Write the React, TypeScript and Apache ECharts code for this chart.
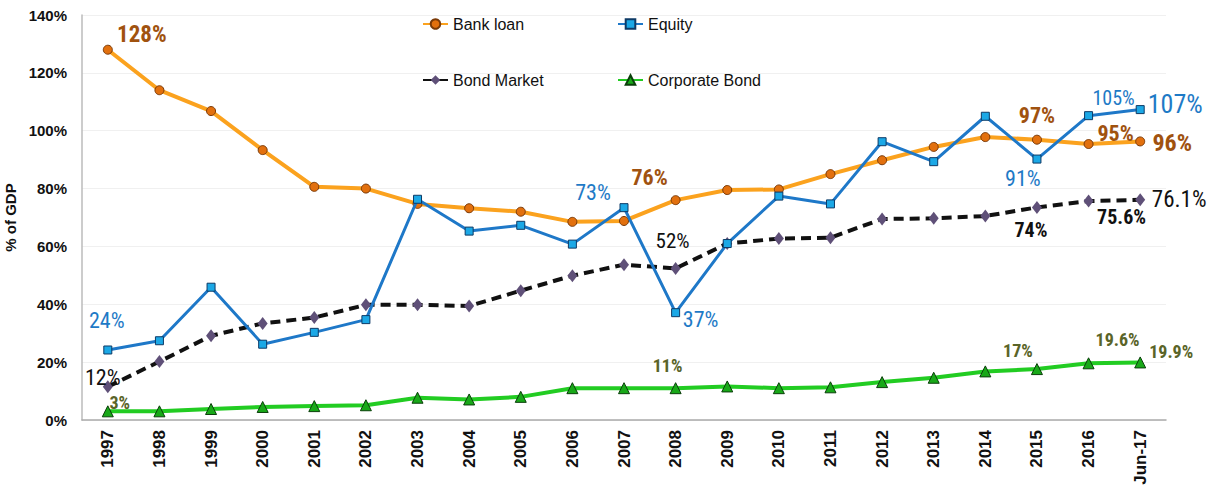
import React, { useEffect, useRef } from "react";
import * as echarts from "echarts";

const categories = ["1997","1998","1999","2000","2001","2002","2003","2004","2005","2006","2007","2008","2009","2010","2011","2012","2013","2014","2015","2016","Jun-17"];
const bankLoan = [128,114,106.8,93.3,80.6,80,74.7,73.2,72,68.5,68.8,76,79.5,79.7,85,89.8,94.4,97.8,96.9,95.4,96.3];
const equity = [24.2,27.4,45.9,26.2,30.3,34.7,76.3,65.3,67.3,60.8,73.4,37.1,61,77.4,74.7,96.2,89.3,105,90.2,105.2,107.3];
const bondMarket = [11.5,20.2,29.1,33.4,35.4,39.8,39.8,39.4,44.7,49.9,53.7,52.4,61,62.7,63,69.5,69.7,70.5,73.5,75.7,76.1];
const corporateBond = [3,3,3.8,4.5,4.8,5.1,7.7,7.1,8,11,11,11,11.6,11,11.3,13.1,14.6,16.8,17.6,19.6,19.9];
const yTicks = [0,20,40,60,80,100,120,140];

// point labels: text per category index
const bankLabels: Record<number,string> = {0:"128%",11:"76%",18:"97%",19:"95%",20:"96%"};
const equityLabels: Record<number,string> = {0:"24%",10:"73%",11:"37%",18:"91%",19:"105%",20:"107%"};
const bondLabels: Record<number,string> = {0:"12%",11:"52%",18:"74%",19:"75.6%",20:"76.1%"};
const corpLabels: Record<number,string> = {0:"3%",11:"11%",18:"17%",19:"19.6%",20:"19.9%"};

// label placement (offset from point, font size, weight)
const bankPlace: Record<number,[number,number,number,string]> = {0:[34,-15,23,"bold"],11:[-26,-23,22,"bold"],18:[0,-24,22,"bold"],19:[27,-11,22,"bold"],20:[32,2,24,"bold"]};
const equityPlace: Record<number,[number,number,number,string]> = {0:[-1,-29,22,"normal"],10:[-31,-15,22,"normal"],11:[25,7,22,"normal"],18:[-14,19,22,"normal"],19:[25,-18,20,"normal"],20:[35,-6,26,"normal"]};
const bondPlace: Record<number,[number,number,number,string]> = {0:[-5,-9,22,"normal"],11:[-3,-27,21,"normal"],18:[-6,23,20,"bold"],19:[33,16,20,"bold"],20:[39,0,23,"normal"]};
const corpPlace: Record<number,[number,number,number,string]> = {0:[12,-9,18,"bold"],11:[-8,-23,18,"bold"],18:[-19,-19,18,"bold"],19:[29,-24,18,"bold"],20:[31,-11,18,"bold"]};

const LABEL_FONT = "'Liberation Sans Narrow', 'Roboto Condensed', 'Liberation Sans', sans-serif";
const FONT = "'Liberation Sans', Arial, sans-serif";

function buildData(values: number[], labels: Record<number,string>, place: Record<number,[number,number,number,string]>, color: string) {
  return values.map((v, i) => {
    if (labels[i] === undefined) return v;
    const p = place[i];
    return {
      value: v,
      label: {
        show: true,
        formatter: labels[i],
        position: "inside",
        offset: [p[0], p[1]],
        fontSize: p[2],
        fontWeight: p[3],
        color,
        fontFamily: LABEL_FONT,
        align: "center",
        verticalAlign: "middle",
      },
    };
  });
}

export default function App() {
  const ref = useRef<HTMLDivElement>(null);
  useEffect(() => {
    if (!ref.current) return;
    const chart = echarts.init(ref.current, undefined, { renderer: "svg" });
    const legendBase = {
      orient: "horizontal",
      padding: 0,
      itemWidth: 25,
      itemHeight: 12,
      textStyle: { fontSize: 16, color: "#111", fontFamily: FONT },
    };
    chart.setOption({
      animation: false,
      backgroundColor: "#fff",
      legend: [
        { ...legendBase, left: 422, top: 16, data: ["Bank loan"] },
        { ...legendBase, left: 617, top: 16, data: ["Equity"] },
        { ...legendBase, left: 422, top: 72, data: ["Bond Market"] },
        { ...legendBase, left: 617, top: 72, data: ["Corporate Bond"] },
      ],
      grid: { left: 82, right: 46, top: 15, bottom: 75, containLabel: false, outerBoundsMode: "none" },
      xAxis: {
        type: "category",
        data: categories,
        boundaryGap: true,
        axisLine: { lineStyle: { color: "#aaa", width: 1.5 } },
        axisTick: { show: false },
        axisLabel: { rotate: 90, fontSize: 17, fontWeight: "bold", color: "#111", fontFamily: FONT, margin: 10, interval: 0 },
        splitLine: { show: false },
      },
      yAxis: {
        type: "value",
        min: yTicks[0],
        max: yTicks[yTicks.length - 1],
        interval: 20,
        name: "% of GDP",
        nameLocation: "middle",
        nameGap: 61,
        nameRotate: 90,
        nameTextStyle: { fontSize: 15, fontWeight: "bold", color: "#111", fontFamily: FONT },
        axisLine: { show: true, lineStyle: { color: "#bbb", width: 1.5 } },
        axisTick: { show: false },
        axisLabel: { formatter: "{value}%", fontSize: 15, fontWeight: "bold", color: "#111", fontFamily: FONT, margin: 15 },
        splitLine: { lineStyle: { color: "#f0f0f0" } },
      },
      series: [
        {
          name: "Bank loan",
          type: "line",
          data: buildData(bankLoan, bankLabels, bankPlace, "#A0520F"),
          symbol: "circle",
          symbolSize: 9,
          lineStyle: { color: "#FBA21E", width: 4 },
          itemStyle: { color: "#E2700E", borderColor: "#7A3A08", borderWidth: 1 },
          z: 3,
        },
        {
          name: "Equity",
          type: "line",
          data: buildData(equity, equityLabels, equityPlace, "#1E7AC6"),
          symbol: "rect",
          symbolSize: 8,
          lineStyle: { color: "#1E78C8", width: 3 },
          itemStyle: { color: "#1BA8E6", borderColor: "#0D3A66", borderWidth: 1 },
          z: 4,
        },
        {
          name: "Bond Market",
          type: "line",
          data: buildData(bondMarket, bondLabels, bondPlace, "#111"),
          symbol: "diamond",
          symbolSize: [10, 13],
          lineStyle: { color: "#111", width: 4, type: [10, 6] },
          itemStyle: { color: "#5F5078", borderColor: "#5F5078", borderWidth: 0 },
          z: 3,
        },
        {
          name: "Corporate Bond",
          type: "line",
          data: buildData(corporateBond, corpLabels, corpPlace, "#5A6428"),
          symbol: "triangle",
          symbolSize: 11,
          lineStyle: { color: "#22CC22", width: 4 },
          itemStyle: { color: "#18A818", borderColor: "#0A3F0A", borderWidth: 1 },
          z: 3,
        },
      ],
    });
    return () => chart.dispose();
  }, []);
  return <div ref={ref} style={{ width: 1212, height: 495, position: "absolute", left: 0, top: 0 }} />;
}
